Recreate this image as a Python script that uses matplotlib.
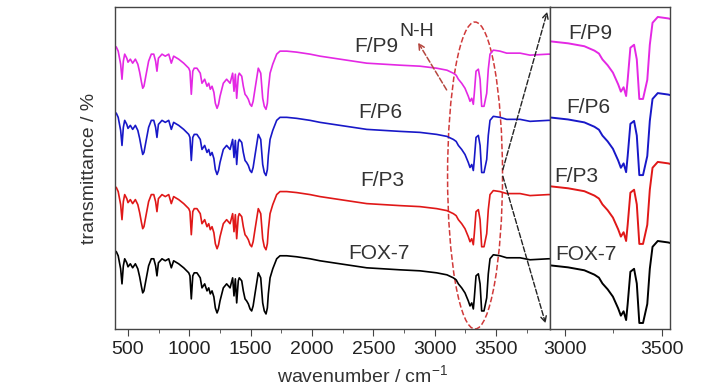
import matplotlib
matplotlib.use("Agg")
import matplotlib.pyplot as plt
from matplotlib.patches import Ellipse
from matplotlib.ticker import MultipleLocator

plt.rcParams['font.family'] = ['Liberation Sans', 'DejaVu Sans']
plt.rcParams['mathtext.fontset'] = 'custom'
plt.rcParams['mathtext.rm'] = 'Liberation Sans'

# FOX-7 spectrum (arbitrary transmittance units)
WAVENUMBER = [
    394, 405, 420, 440, 451, 462, 473, 490, 500, 519, 538, 560, 580, 595, 610,
    620, 630, 645, 668, 690, 710, 725, 736, 748, 763, 777, 804, 832, 853, 872,
    913, 954, 995, 1005, 1016, 1028, 1040, 1062, 1089, 1103, 1125, 1144, 1158,
    1171, 1185, 1200, 1212, 1226, 1238, 1250, 1277, 1304, 1332, 1353, 1364,
    1375, 1386, 1399, 1407, 1427, 1440, 1454, 1467, 1481, 1495, 1508, 1520,
    1535, 1562, 1582, 1598, 1611, 1625, 1636, 1644, 1658, 1680, 1712, 1739,
    1794, 1875, 1984, 2065, 2228, 2446, 2717, 2880, 3016, 3100, 3152, 3175,
    3193, 3220, 3247, 3274, 3288, 3302, 3315, 3323, 3337, 3356, 3370, 3383,
    3402, 3424, 3437, 3451, 3478, 3532, 3587, 3696, 3777, 3926, 3940,
]
FOX7 = [
    78, 77, 73, 60, 45, 63, 70, 66, 62, 65, 61, 65, 60, 52, 42,
    36, 38, 48, 63, 70, 70, 63, 53, 66, 68, 70, 68, 70, 61, 68,
    65, 61, 56, 53, 30, 53, 56, 56, 51, 41, 45, 38, 41,
    35, 38, 32, 21, 16, 20, 28, 41, 45, 41, 51, 33,
    50, 26, 48, 51, 48, 38, 30, 28, 25, 20, 18, 23,
    35, 56, 51, 26, 18, 15, 21, 35, 51, 60, 70, 73,
    73, 72, 70, 68, 65, 61, 59, 58, 56, 54, 51, 49,
    45, 41, 36, 28, 23, 26, 20, 31, 53, 55, 45, 18,
    18, 31, 55, 70, 74, 73, 71, 71, 69, 70, 70,
]

SAMPLES = ["FOX-7", "F/P3", "F/P6", "F/P9"]
COLORS = ["black", "#e01818", "#1818c8", "#e428e4"]
OFFSETS_MAIN = [0, 64, 138, 204]
OFFSETS_INSET = [0, 54, 101, 153]

MAIN_XTICKS = [500, 1000, 1500, 2000, 2500, 3000, 3500]
INSET_XTICKS = [3000, 3500]

LABEL_POS_MAIN = [(0.607, 0.233), (0.614, 0.46), (0.611, 0.671), (0.60, 0.876)]
LABEL_POS_INSET = [(0.30, 0.230), (0.217, 0.475), (0.317, 0.689), (0.333, 0.919)]

SPINE = "#444444"

fig = plt.figure(figsize=(7.28, 3.9), dpi=100)
ax = fig.add_axes([115 / 728, 61 / 390, 435 / 728, 322 / 390])
axi = fig.add_axes([550 / 728, 61 / 390, 120 / 728, 322 / 390])

for name, color, off, off_i, lp, lpi in zip(SAMPLES, COLORS, OFFSETS_MAIN,
                                            OFFSETS_INSET, LABEL_POS_MAIN,
                                            LABEL_POS_INSET):
    ax.plot(WAVENUMBER, [v + off for v in FOX7], color=color, lw=1.2)
    axi.plot(WAVENUMBER, [v + off_i for v in FOX7], color=color, lw=1.4)
    ax.text(*lp, name, transform=ax.transAxes, ha="center", va="center",
            fontsize=15, color="#333333")
    axi.text(*lpi, name, transform=axi.transAxes, ha="center", va="center",
             fontsize=15, color="#333333")

ax.set_xlim(394, 3940)
ax.set_ylim(0, 321)
axi.set_xlim(2923, 3541)
axi.set_ylim(13.9, 233.8)

for a, ticks in ((ax, MAIN_XTICKS), (axi, INSET_XTICKS)):
    a.set_xticks(ticks)
    a.xaxis.set_minor_locator(MultipleLocator(250))
    a.set_yticks([])
    a.tick_params(axis="x", which="major", direction="out", length=5,
                  labelsize=14, color=SPINE, labelcolor="#222222")
    a.tick_params(axis="x", which="minor", direction="out", length=3,
                  color=SPINE)
    for s in a.spines.values():
        s.set_color(SPINE)
        s.set_linewidth(1.0)

# N-H region marker
ax.add_patch(Ellipse((3329, 153), 448, 306, fill=False, ls="--", lw=1.1,
                     ec="#d03a3a", clip_on=False))
ax.annotate("", xy=(2853, 288), xytext=(3109, 236),
            arrowprops=dict(arrowstyle="->", ls="--", lw=1.1, color="#b5473f"))
ax.text(2850, 297, "N-H", ha="center", va="center", fontsize=14,
        color="#333333")

# zoom lines towards the inset
ax.annotate("", xy=(3924, 319), xytext=(3549, 156), annotation_clip=False,
            arrowprops=dict(arrowstyle="->", ls="--", lw=1.0, color="#222222"))
ax.annotate("", xy=(3910, 3), xytext=(3549, 155), annotation_clip=False,
            arrowprops=dict(arrowstyle="->", ls="--", lw=1.0, color="#222222"))

ax.set_ylabel("transmittance / %", fontsize=14, color="#333333", labelpad=12)
fig.text(362 / 728, 1 - 376 / 390, "wavenumber / cm$^{\\mathregular{-1}}$",
         ha="center", va="center", fontsize=14, color="#333333")

fig.savefig("out.png", dpi=100)
